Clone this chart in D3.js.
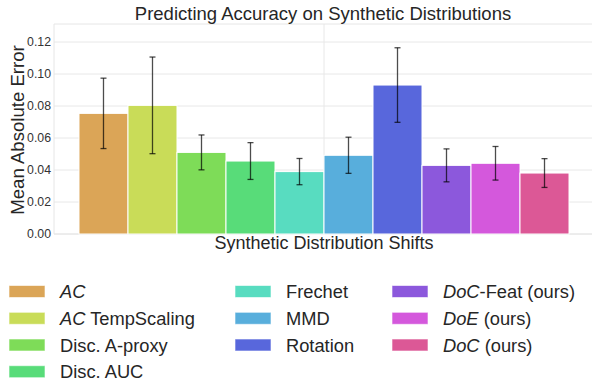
<!DOCTYPE html>
<html>
<head>
<meta charset="utf-8">
<script src="https://cdn.jsdelivr.net/npm/d3@7"></script>
<style>
  body { margin: 0; background: #fff; }
  svg { font-family: "Liberation Sans", Arial, sans-serif; }
</style>
</head>
<body>
<div id="chart"></div>
<script>
const methods = ["AC", "AC TempScaling", "Disc. A-proxy", "Disc. AUC", "Frechet", "MMD", "Rotation", "DoC-Feat (ours)", "DoE (ours)", "DoC (ours)"];
const meanErr = [0.0754, 0.0804, 0.0510, 0.0456, 0.0390, 0.0492, 0.0931, 0.0429, 0.0442, 0.0381];
const stdErr = [0.0220, 0.0302, 0.0109, 0.0115, 0.0082, 0.0113, 0.0233, 0.0103, 0.0105, 0.0090];
const colors = ["#dba557", "#c9dc58", "#7edc58", "#58dc79", "#58dcc0", "#58aedc", "#5867dc", "#8c58dc", "#d458dc", "#dc5896"];
const yTicks = [0.00, 0.02, 0.04, 0.06, 0.08, 0.10, 0.12];
const groups = ["Synthetic"];

const W = 592, H = 383;
const mLeft = 54, mRight = 594, mTop = 24, mBottom = 234;

const svg = d3.select("#chart").append("svg")
  .attr("width", W).attr("height", H);

const y = d3.scaleLinear().domain([0, 0.13125]).range([mBottom, mTop]);
const x = d3.scaleBand().domain(groups).range([mLeft, mRight]).paddingInner(0).paddingOuter(0.051);
const xb = d3.scaleBand().domain(methods).range([x(groups[0]), x(groups[0]) + x.bandwidth()]);

// grid
svg.append("g").selectAll("line").data(yTicks).enter().append("line")
  .attr("x1", mLeft).attr("x2", mRight)
  .attr("y1", d => y(d)).attr("y2", d => y(d))
  .attr("stroke", "#e8e8e8").attr("stroke-width", 1);
svg.append("line")
  .attr("x1", x(groups[0]) + x.bandwidth() / 2).attr("x2", x(groups[0]) + x.bandwidth() / 2)
  .attr("y1", mTop).attr("y2", mBottom)
  .attr("stroke", "#e8e8e8");
// frame
svg.append("line").attr("x1", mLeft).attr("x2", mLeft).attr("y1", mTop).attr("y2", mBottom).attr("stroke", "#e6e6e6");
svg.append("line").attr("x1", mLeft).attr("x2", mRight).attr("y1", mTop).attr("y2", mTop).attr("stroke", "#e6e6e6");
svg.append("line").attr("x1", mLeft).attr("x2", mRight).attr("y1", mBottom).attr("y2", mBottom).attr("stroke", "#e6e6e6");

// y axis
const yAxis = svg.append("g")
  .attr("transform", "translate(" + mLeft + ",0)")
  .call(d3.axisLeft(y).tickValues(yTicks).tickFormat(d3.format(".2f")).tickSize(0).tickPadding(3));
yAxis.select(".domain").remove();
yAxis.selectAll("text").attr("font-size", 12.3).attr("fill", "#333");

// bars
svg.append("g").selectAll("rect").data(methods).enter().append("rect")
  .attr("x", d => xb(d))
  .attr("width", xb.bandwidth())
  .attr("y", (d, i) => y(meanErr[i]))
  .attr("height", (d, i) => mBottom - y(meanErr[i]))
  .attr("fill", (d, i) => colors[i])
  .attr("stroke", "#fff").attr("stroke-width", 1);

// error bars
const eb = svg.append("g").attr("stroke", "#000").attr("stroke-opacity", 0.7).attr("stroke-width", 1.3);
methods.forEach((m, i) => {
  const cx = xb(m) + xb.bandwidth() / 2;
  const y1 = y(meanErr[i] + stdErr[i]), y2 = y(meanErr[i] - stdErr[i]);
  eb.append("line").attr("x1", cx).attr("x2", cx).attr("y1", y1).attr("y2", y2);
  eb.append("line").attr("x1", cx - 3).attr("x2", cx + 3).attr("y1", y1).attr("y2", y1);
  eb.append("line").attr("x1", cx - 3).attr("x2", cx + 3).attr("y1", y2).attr("y2", y2);
});

// title & labels
svg.append("text").attr("x", 323).attr("y", 20).attr("text-anchor", "middle")
  .attr("font-size", 18.5).attr("fill", "#262626").text("Predicting Accuracy on Synthetic Distributions");
svg.append("text").attr("x", 324).attr("y", 249).attr("text-anchor", "middle")
  .attr("font-size", 18).attr("fill", "#262626").text("Synthetic Distribution Shifts");
svg.append("text").attr("transform", "translate(24,130) rotate(-90)")
  .attr("text-anchor", "middle").attr("font-size", 18.6).attr("fill", "#262626").text("Mean Absolute Error");

// legend
const colX = [9, 235, 392];
const rowY = [291.5, 318.3, 345, 371.7];
const perCol = [4, 3, 3];
const lg = svg.append("g");
let k = 0;
perCol.forEach((n, c) => {
  for (let r = 0; r < n; r++, k++) {
    const g = lg.append("g").attr("transform", "translate(" + colX[c] + "," + rowY[r] + ")");
    g.append("rect").attr("x", 0).attr("y", -6).attr("width", 36).attr("height", 12)
      .attr("fill", colors[k]).attr("stroke", "#fff").attr("stroke-opacity", 0.6);
    const t = g.append("text").attr("x", 51).attr("y", 6.5).attr("font-size", 18.3).attr("fill", "#262626");
    const name = methods[k];
    const m = name.match(/^(AC|DoC|DoE)(.*)$/);
    if (m) {
      t.append("tspan").attr("font-style", "italic").text(m[1]);
      t.append("tspan").text(m[2]);
    } else {
      t.text(name);
    }
  }
});
</script>
</body>
</html>
